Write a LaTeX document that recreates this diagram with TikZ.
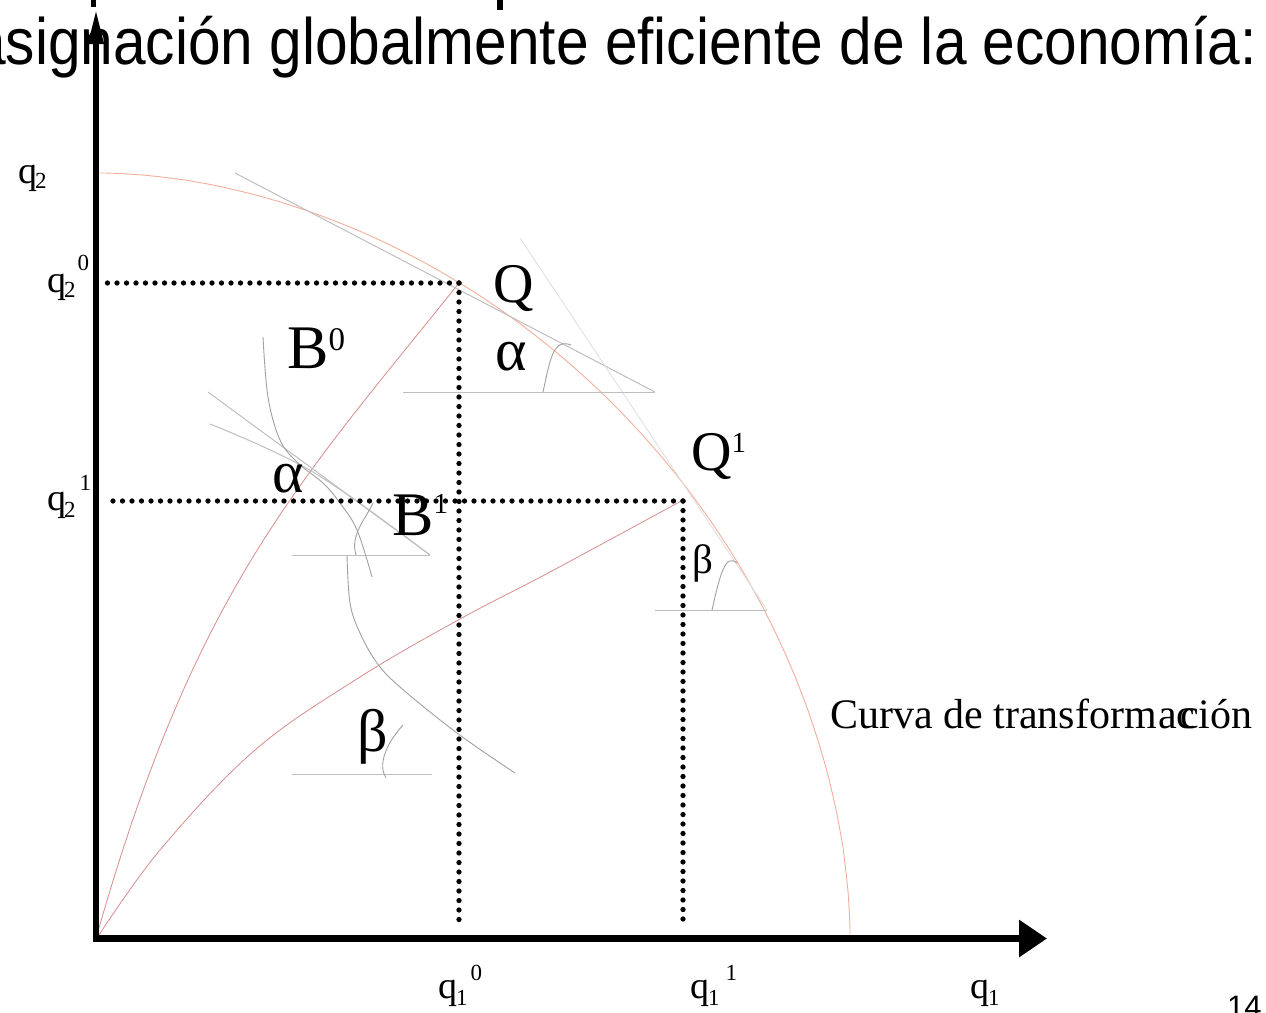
\documentclass[tikz,border=0pt]{standalone}
\usepackage{fontspec}
\setmainfont{Liberation Serif}
\newfontfamily\titlefont{Liberation Sans}
\usetikzlibrary{arrows.meta}
\definecolor{tcurve}{RGB}{242,175,155}
\definecolor{raycol}{RGB}{215,140,140}
\definecolor{helpcol}{RGB}{190,190,190}
\definecolor{isocol}{RGB}{160,160,160}
\definecolor{faintcol}{RGB}{222,222,222}
\tikzset{
  axisline/.style={line width=6.5pt},
  dotline/.style={line width=5.3pt, line cap=round, dash pattern=on 0pt off 9.5pt},
  trans/.style={draw=tcurve, line width=0.9pt},
  rayline/.style={draw=raycol, line width=0.8pt},
  helper/.style={draw=helpcol, line width=1pt},
  isoq/.style={draw=isocol, line width=0.9pt},
  lbl/.style={inner sep=0pt, anchor=base west},
}
\newcommand{\fs}[1]{\fontsize{#1}{#1}\selectfont}
\begin{document}
\begin{tikzpicture}[x=1pt,y=-1pt]
\useasboundingbox (0,0) rectangle (1266,1012);
% fragments of the line above
\fill (91,0) rectangle (96,7);
\fill (497,0) rectangle (503,10);
% title
\node[lbl, yscale=1.12] (title) at (-27,64) {\titlefont\fs{58.6}asignación globalmente eficiente de la economía:};
% key points
\coordinate (O) at (96,938.5);
\coordinate (Q) at (459,283);
\coordinate (Q1) at (683,501);
\coordinate (Xend) at (1047,938.5);
\coordinate (Yend) at (96,8);
\coordinate (Y0) at (104,283);
\coordinate (Y1) at (104,501);
\coordinate (X0) at (459,926);
\coordinate (X1) at (683,926);
% transformation curve
\draw[trans] (97,173) -- plot[domain=89.8:0.2, samples=120, variable=\t]
  ({97+753*cos(\t)^1.064}, {938-765*sin(\t)^1.064}) -- (850,938);
% rays from the origin
\draw[rayline] (O) .. controls (195,588) and (299,483) .. (Q);
\draw[rayline] plot[smooth, tension=0.6] coordinates {(97,938) (160,850) (255,750) (360,677) (460,619) (550,572) (683,500)};
% tangent lines
\draw[helper] (235,173) -- (655,392);
\draw[draw=faintcol, line width=0.8pt] (520,238) -- (767,610);
\draw[helper] (403,392) -- (655,392);
\draw[helper] (655,610) -- (767,610);
\draw[helper] (208,392) -- (430,555);
\draw[helper] plot[smooth, tension=0.6] coordinates {(210,424) (313,472) (430,555)};
\draw[helper] (292,555) -- (430,555);
\draw[helper] (292,774) -- (432,774);
% isoquants
\draw[isoq] plot[smooth, tension=0.6] coordinates {(263,337) (268,397) (280,440) (298,463) (323,483) (340,503) (357,530) (372,577)};
\draw[isoq] plot[smooth, tension=0.6] coordinates {(347,555) (350,603) (360,633) (377,663) (400,687) (457,733) (515,773)};
% angle marks
\draw[isoq] (543,392) .. controls (550,360) and (553,338) .. (571,345);
\draw[isoq] (712,610) .. controls (720,575) and (725,553) .. (737,563);
\draw[isoq] (356,555) .. controls (350,535) and (365,520) .. (373,503);
\draw[isoq] (386,778) .. controls (378,765) and (385,745) .. (403,725);
% dotted guides
\draw[dotline] (Q) -- (Y0);
\draw[dotline] (Q) -- (X0);
\draw[dotline] (Q1) -- (Y1);
\draw[dotline] (Q1) -- (X1);
% axes
\draw[axisline, -{Triangle[length=28pt,width=36pt]}] (93,938.5) -- (Xend);
\draw[axisline, -{Triangle[length=36pt,width=14pt]}] (96,942) -- (Yend);
% labels
\node[lbl] (lQ) at (493,302) {\fs{56}Q};
\node[lbl] (lQ1) at (691,470) {\fs{56}Q\raisebox{18pt}{\fs{29}1}};
\node[lbl] (lB0) at (287,368) {\fs{62}B\raisebox{18pt}{\fs{33}0}};
\node[lbl] (lB1) at (392,535) {\fs{62}B\raisebox{22pt}{\fs{29}1}};
\node[lbl] (la1) at (495,370) {\fs{60}α};
\node[lbl] (la2) at (272,492) {\fs{60}α};
\node[lbl] (lb1) at (692,573) {\fs{41}β};
\node[lbl] (lb2) at (357,751) {\fs{60}β};
\node[lbl] (lq2) at (18,183) {\fs{38}q\kern-2pt\raisebox{-5pt}{\fs{23}2}};
\node[lbl] (lq20) at (47,292) {\fs{38}q\kern-2pt\raisebox{-5pt}{\fs{23}2}\kern2pt\raisebox{22pt}{\fs{23}0}};
\node[lbl] (lq21) at (47,510) {\fs{38}q\kern-2pt\raisebox{-7pt}{\fs{23}2}\kern4pt\raisebox{20pt}{\fs{23}1}};
\node[lbl] (lq10) at (438,998) {\fs{38}q\kern-1pt\raisebox{-7pt}{\fs{23}1}\kern3pt\raisebox{18pt}{\fs{23}0}};
\node[lbl] (lq11) at (690,998) {\fs{38}q\kern-1pt\raisebox{-7pt}{\fs{23}1}\kern6pt\raisebox{18pt}{\fs{23}1}};
\node[lbl] (lq1) at (970,998) {\fs{38}q\kern-1pt\raisebox{-7pt}{\fs{23}1}};
\node[lbl] (page) at (1227,1017) {\titlefont\fs{31}14};
\node[lbl] (curva) at (830,728) {\fs{42}Curva de transform};
\node[lbl] (curvb) at (1158,728) {\fs{42}ac};
\node[lbl] (curvc) at (1180,728) {\fs{42}ción};
\end{tikzpicture}
\end{document}
